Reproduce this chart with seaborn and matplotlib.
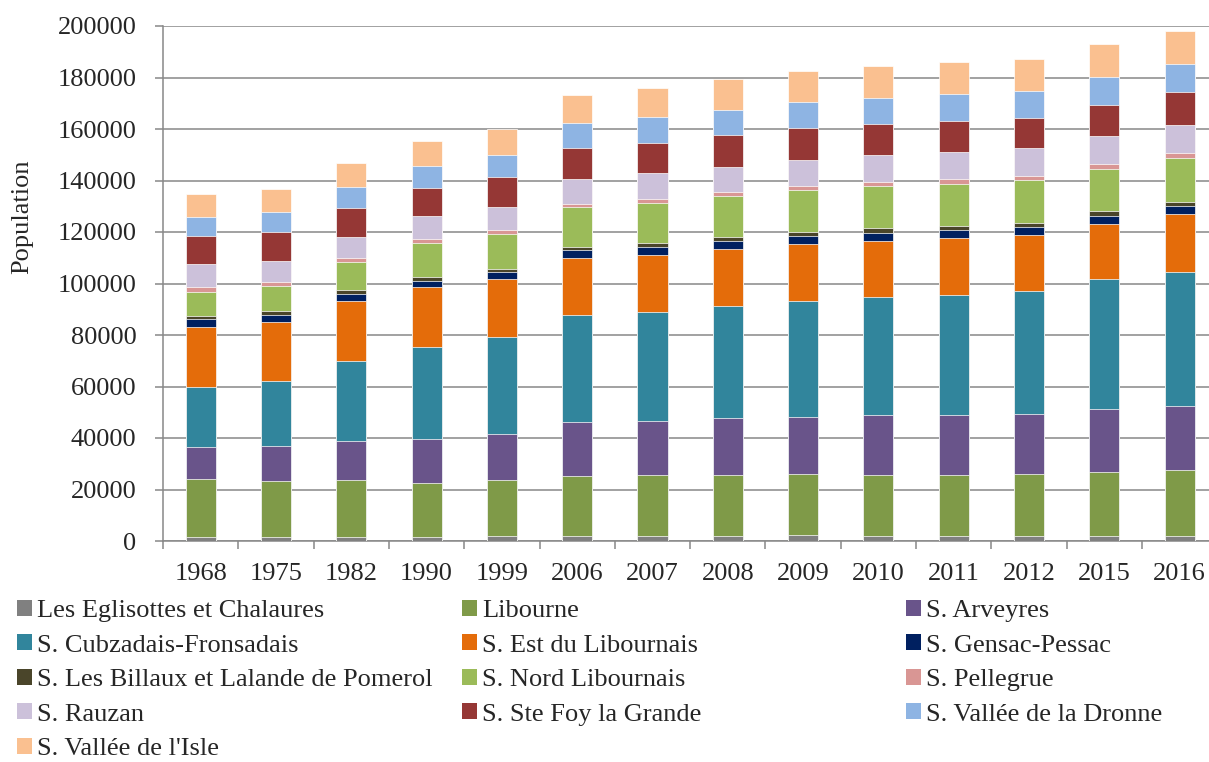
import numpy as np
import pandas as pd
import matplotlib
matplotlib.use("Agg")
import matplotlib.pyplot as plt
import matplotlib.patches as mpatches
from matplotlib.ticker import FixedLocator
import seaborn as sns

years = ["1968", "1975", "1982", "1990", "1999", "2006", "2007",
         "2008", "2009", "2010", "2011", "2012", "2015", "2016"]

eglisottes = [1700, 1700, 1700, 1500, 1900, 1900, 1900, 2100, 2200, 2100, 2100, 2100, 1800, 2000]
libourne = [22300, 21700, 22100, 21200, 21800, 23500, 23600, 23500, 23700, 23500, 23600, 23800, 25000, 25500]
arveyres = [12400, 13400, 14900, 16800, 18000, 20700, 21200, 22000, 22400, 23200, 23100, 23400, 24300, 25100]
cubzadais = [23300, 25200, 31200, 36000, 37400, 41500, 42400, 43500, 44800, 45800, 46900, 47700, 50500, 52000]
est_libournais = [23500, 23200, 23400, 23000, 22500, 22400, 22100, 22400, 22400, 22000, 22100, 21900, 21700, 22500]
gensac = [3000, 2700, 2700, 2600, 2700, 2900, 3000, 3000, 2800, 3100, 2900, 3200, 3000, 2900]
billaux = [1300, 1300, 1400, 1500, 1400, 1400, 1500, 1700, 1700, 1700, 1700, 1500, 1700, 1800]
nord = [9100, 9700, 10800, 13000, 13400, 15300, 15600, 15800, 16200, 16300, 16400, 16600, 16600, 17000]
pellegrue = [2000, 1800, 1700, 1700, 1700, 1400, 1600, 1700, 1800, 1800, 1800, 1700, 1700, 1900]
rauzan = [9000, 8200, 8300, 8800, 8900, 9700, 9900, 9700, 10100, 10300, 10300, 10600, 10800, 10700]
ste_foy = [11000, 11200, 11200, 11100, 11500, 12000, 11900, 12300, 12100, 12300, 12300, 11900, 12200, 12800]
dronne = [7400, 7800, 8200, 8400, 8800, 9500, 9900, 9800, 10300, 10100, 10300, 10400, 11000, 10900]
isle = [8600, 8800, 9200, 9900, 10000, 11000, 11400, 11800, 12000, 12400, 12400, 12400, 12700, 12900]

names = ["Les Eglisottes et Chalaures", "Libourne", "S. Arveyres",
         "S. Cubzadais-Fronsadais", "S. Est du Libournais", "S. Gensac-Pessac",
         "S. Les Billaux et Lalande de Pomerol", "S. Nord Libournais", "S. Pellegrue",
         "S. Rauzan", "S. Ste Foy la Grande", "S. Vallée de la Dronne",
         "S. Vallée de l'Isle"]
series = [eglisottes, libourne, arveyres, cubzadais, est_libournais, gensac,
          billaux, nord, pellegrue, rauzan, ste_foy, dronne, isle]
colors = ["#808080", "#7F9A48", "#69548A", "#31859C", "#E46C0A", "#002060",
          "#4A452A", "#9BBB59", "#D99694", "#CCC1DA", "#953735", "#8EB4E3",
          "#FAC090"]

df = pd.DataFrame(dict(zip(names, series)))
df["year"] = years
cum = df[names].cumsum(axis=1)
cum["year"] = years

sns.set_style("white")
plt.rcParams["font.family"] = ["Liberation Serif", "DejaVu Serif"]
fs = 19

fig = plt.figure(figsize=(12.09, 7.62), dpi=100)
ax = fig.add_axes([163 / 1209, 221 / 762, 1 - 163 / 1209, 515 / 762])

# stacked bars: draw cumulative totals from top layer down
for name, col in reversed(list(zip(names, colors))):
    sns.barplot(data=cum, x="year", y=name, order=years, color=col,
                width=0.4, saturation=1, edgecolor="white", linewidth=0.5,
                ax=ax, zorder=3)

gc = "#888888"
ax.set_ylim(0, 200000)
ax.set_xlim(-0.5, 13.39)
ax.set_yticks(np.arange(0, 200001, 20000))
ax.yaxis.grid(True, color=gc, linewidth=1.1)
ax.set_axisbelow(True)
for s in ["top", "right"]:
    ax.spines[s].set_visible(False)
ax.spines["left"].set_color(gc)
ax.spines["bottom"].set_color(gc)
ax.spines["left"].set_linewidth(1.1)
ax.spines["bottom"].set_linewidth(1.1)

ax.tick_params(axis="y", which="major", direction="out", length=6, width=1.1,
               color=gc, labelsize=fs, pad=13, left=True)
ax.tick_params(axis="x", which="major", length=0, labelsize=fs, pad=16)
ax.xaxis.set_minor_locator(FixedLocator(np.arange(-0.5, 14, 1)))
ax.tick_params(axis="x", which="minor", direction="out", length=6, width=1.1,
               color=gc, bottom=True)

ax.set_xlabel("")
ax.set_ylabel("Population", fontsize=fs)
ax.yaxis.set_label_coords(-0.124, 0.63)

# legend laid out row by row in three columns
handles = [mpatches.Patch(facecolor=c, edgecolor="none", label=n)
           for n, c in zip(names, colors)]
col_x = [17, 462, 906]
for k in range(3):
    h = handles[k::3]
    fig.legend(handles=h, loc="upper left",
               bbox_to_anchor=(col_x[k] / 1209, (762 - 600) / 762),
               frameon=False, fontsize=fs, handlelength=0.55,
               handleheight=0.55, handletextpad=0.2, labelspacing=0.46,
               borderpad=0, borderaxespad=0)

fig.savefig("out.png", dpi=100)
